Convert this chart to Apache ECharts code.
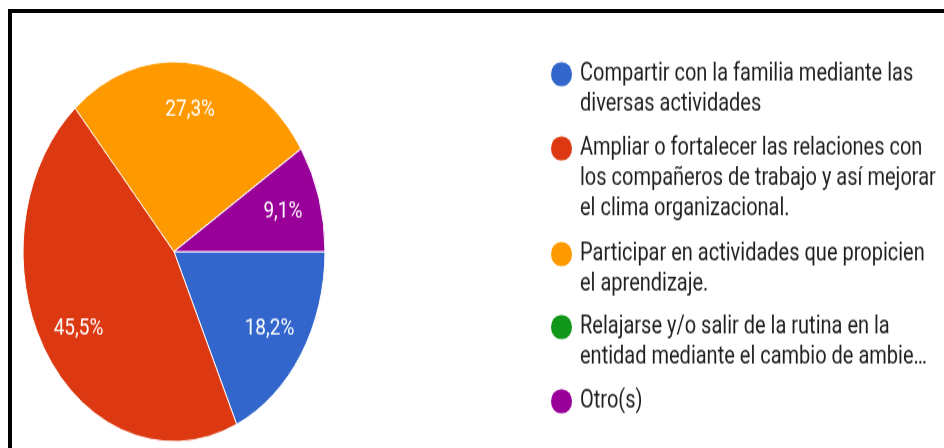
<!DOCTYPE html>
<html>
<head>
<meta charset="utf-8">
<script src="https://cdn.jsdelivr.net/npm/echarts@6/dist/echarts.min.js"></script>
<style>
    html, body { margin: 0; padding: 0; background: #fff; overflow: hidden; }
    #wrap { position: relative; width: 944px; height: 448px; overflow: hidden; }
    /* marco negro: solo arriba e izquierda, como en la captura */
    #frame { position: absolute; left: 8px; top: 9px; right: -10px; bottom: -10px;
             border-top: 4px solid #000; border-left: 4px solid #000; }
    /* la captura original está estirada en vertical, por eso se escala el gráfico */
    #chart { position: absolute; left: 0; top: 0; width: 944px; height: 356px;
             transform: scaleY(1.258); transform-origin: 0 0; }
</style>
</head>
<body>
<div id="wrap">
    <div id="frame"></div>
    <div id="chart"></div>
</div>
<script>
// categorías, tal como se leen en la leyenda (con sus saltos de línea)
const categories = [
    'Compartir con la familia mediante las\ndiversas actividades',
    'Ampliar o fortalecer las relaciones con\nlos compañeros de trabajo y así mejorar\nel clima organizacional.',
    'Participar en actividades que propicien\nel aprendizaje.',
    'Relajarse y/o salir de la rutina en la\nentidad mediante el cambio de ambie…',
    'Otro(s)'
]
// número de respuestas por opción (11 en total)
const responses = [2, 5, 3, 0, 1]
const colors = ['#3366CC', '#DC3912', '#FF9900', '#109618', '#990099']

const total = responses.reduce((a, b) => a + b, 0)
const pieData = categories.map((name, i) => ({ name: name, value: responses[i] }))

// posición vertical de cada entrada de la leyenda (una leyenda por opción)
const legendTops = [49, 108, 192, 250, 309]

// texto enriquecido: punto de color en la primera línea, sangría en las demás
const rich = {
    t: { fontSize: 20, fontFamily: 'Roboto', color: '#1f1f1f', lineHeight: 24, padding: [0, 0, 0, 8] },
    pad: { width: 21, lineHeight: 24 }
}
colors.forEach((c, i) => {
    rich['d' + i] = { width: 21, height: 19, borderRadius: 10, backgroundColor: c, lineHeight: 24 }
})

let mychart = echarts.init(document.getElementById('chart'))
mychart.setOption({
    animation: false,
    color: colors,
    legend: categories.map((name, i) => ({
        orient: 'vertical',
        left: 545,
        top: legendTops[i],
        padding: 0,
        itemWidth: 0,
        itemHeight: 0,
        icon: 'circle',
        selectedMode: false,
        data: [name],
        formatter: function (n) {
            return n.split('\n').map((line, j) =>
                (j === 0 ? '{d' + i + '| }' : '{pad| }') + '{t|' + line + '}'
            ).join('\n')
        },
        textStyle: { rich: rich }
    })),
    series: [
        {
            // la tarta
            type: 'pie',
            center: [174, 200],
            radius: 151,
            startAngle: 0,
            clockwise: true,
            silent: true,
            label: { show: false },
            labelLine: { show: false },
            itemStyle: { borderColor: '#fff', borderWidth: 1 },
            data: pieData
        },
        {
            // capa transparente solo para colocar los porcentajes
            type: 'pie',
            center: [174, 200],
            radius: [70, 151],
            startAngle: 0,
            clockwise: true,
            silent: true,
            avoidLabelOverlap: false,
            itemStyle: { color: 'transparent', borderWidth: 0 },
            labelLine: { show: false },
            label: {
                show: true,
                position: 'inside',
                color: '#fff',
                fontSize: 19,
                fontFamily: 'Roboto',
                formatter: function (p) {
                    if (!p.value) return ''
                    return (p.value / total * 100).toFixed(1).replace('.', ',') + '%'
                }
            },
            data: pieData
        }
    ]
})
</script>
</body>
</html>
